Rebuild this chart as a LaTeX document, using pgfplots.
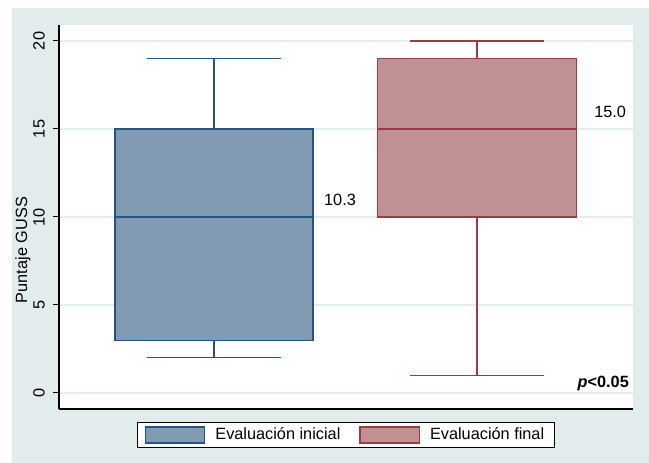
\documentclass[border=0pt]{standalone}
\usepackage{pgfplots}
\pgfplotsset{compat=1.18}
\usepgfplotslibrary{statistics}
\usepackage{fontspec}
\setmainfont{Liberation Sans}

\definecolor{bgcol}{RGB}{226,236,237}
\definecolor{gridcol}{RGB}{226,237,240}
\definecolor{inifill}{RGB}{128,155,178}
\definecolor{iniedge}{RGB}{38,84,128}
\definecolor{finfill}{RGB}{192,144,146}
\definecolor{finedge}{RGB}{158,58,68}

\begin{document}
\fontsize{16.3}{19.5}\selectfont
\begin{tikzpicture}
\useasboundingbox (-59pt,-54pt) rectangle (590pt,409pt);
\fill[bgcol] (-47pt,-54pt) rectangle (590pt,401pt);
\begin{axis}[
    at={(0pt,0pt)}, anchor=south west,
    scale only axis, width=574pt, height=384pt,
    xmin=0.4106, xmax=2.593,
    ymin=-0.909, ymax=20.909,
    axis background/.style={fill=white},
    axis x line*=bottom, axis y line*=left,
    axis line style={-, black, line width=1.2pt},
    xtick=\empty,
    ytick={0,5,10,15,20},
    tick align=outside,
    major tick length=6pt,
    tick style={black, line width=1pt},
    ymajorgrids=true,
    major grid style={gridcol, line width=1.5pt},
    /pgf/number format/assume math mode=true,
    yticklabel style={rotate=90, anchor=south, inner sep=0pt},
    yticklabel shift=8pt,
    ylabel={Puntaje GUSS},
    ylabel style={at={(axis description cs:-0.0627,0.414)}, anchor=center},
    boxplot/draw direction=y,
    legend columns=2,
    legend style={at={(axis description cs:0.5,-0.0677)}, anchor=center,
        draw=black, fill=white, line width=0.8pt,
        inner xsep=7pt, inner ysep=2pt,
        nodes={inner sep=3pt},
        /tikz/every odd column/.append style={column sep=7pt},
        /tikz/every even column/.append style={column sep=16pt}},
    legend image code/.code={\draw[#1] (0pt,-8pt) rectangle (59.5pt,8pt);},
]
\addlegendimage{draw=iniedge, fill=inifill, line width=1.1pt}
\addlegendimage{draw=finedge, fill=finfill, line width=1.1pt}
\legend{Evaluación inicial, Evaluación final}

\addplot[boxplot prepared={draw position=1,
    lower whisker=2, lower quartile=3, median=10,
    upper quartile=15, upper whisker=19,
    box extend=0.753, whisker extend=0.506},
    draw=iniedge, fill=inifill, line width=1.1pt, solid]
    coordinates {};
\addplot[boxplot prepared={draw position=2,
    lower whisker=1, lower quartile=10, median=15,
    upper quartile=19, upper whisker=20,
    box extend=0.757, whisker extend=0.506},
    draw=finedge, fill=finfill, line width=1.1pt, solid]
    coordinates {};

\node[anchor=base west, inner sep=0pt] at (axis cs:1.418,10.68) {10.3};
\node[anchor=base west, inner sep=0pt] at (axis cs:2.445,15.68) {15.0};
\node[anchor=base east, inner sep=0pt] at (axis cs:2.578,0.34) {\textbf{\textit{p}<0.05}};
\end{axis}
\end{tikzpicture}
\end{document}
